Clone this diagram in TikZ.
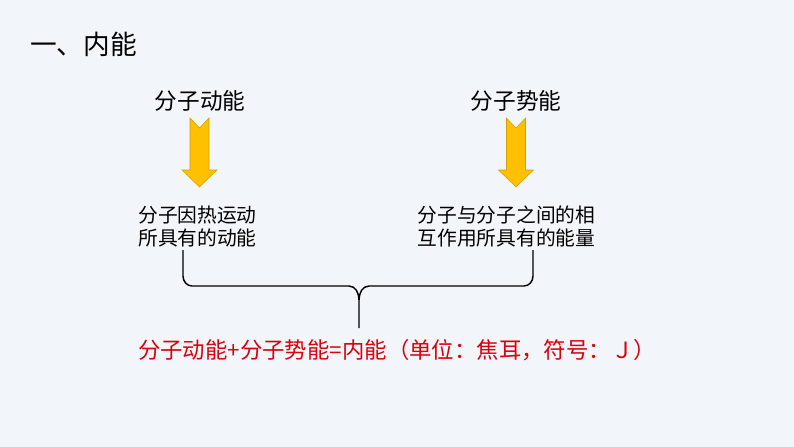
\documentclass[tikz,border=0pt]{standalone}
\usepackage{fontspec}
\setmainfont{Noto Sans CJK SC}
\usepackage{tikz}
\usetikzlibrary{calc}
\definecolor{slidebg}{RGB}{242,246,250}
\definecolor{arrowgold}{RGB}{255,192,0}
\definecolor{arrowedge}{RGB}{214,160,0}
\definecolor{sumred}{RGB}{218,0,12}
\def\goldarrow(#1,#2){\draw[arrowedge, fill=arrowgold, line width=0.4pt, shift={(#1,#2)}] (-9.5,0) -- (0,10) -- (9.5,0) -- (9.5,52) -- (17.5,52) -- (0,69) -- (-17.5,52) -- (-9.5,52) -- cycle;}

\begin{document}
\begin{tikzpicture}[x=0.75pt, y=-0.75pt,
		heading/.style={inner sep=0pt, font=\fontsize{17}{20}\selectfont},
		bodytext/.style={inner sep=0pt, align=center, font=\fontsize{14.8}{17.3}\selectfont}]
				\fill[slidebg] (0,0) rectangle (794,447);
				\useasboundingbox (0,0) rectangle (794,447);
				
				\node[inner sep=0pt, anchor=west, font=\fontsize{20}{24}\selectfont] (title) at (30,44) {一、内能};
				
				\node[heading] (kin) at (200,101) {分子动能};
				\node[heading] (pot) at (516,101) {分子势能};
				
				\goldarrow(199.5,118)
				\goldarrow(516,118)
				
				\node[bodytext] (kintext) at (197.5,226.5) {分子因热运动\\所具有的动能};
				\node[bodytext] (pottext) at (506.5,226.5) {分子与分子之间的相\\互作用所具有的能量};
				
				\coordinate (bl) at (183,250);
				\coordinate (br) at (533,250);
				\coordinate (bm) at (359,328);
				\draw[line width=1.1pt] (bl) -- (183,276) to[out=-90,in=180] (192,286) -- (349,286) to[out=0,in=90] (359,300) -- (bm);
				\draw[line width=1.1pt] (br) -- (533,276) to[out=-90,in=0] (524,286) -- (369,286) to[out=180,in=90] (359,300);
				
				\node[inner sep=0pt, text=sumred, font=\fontsize{16.8}{20}\selectfont] (sum) at (397,350) {分子动能+分子势能=内能（单位：焦耳，符号：Ｊ）};
			\end{tikzpicture}
\end{document}
